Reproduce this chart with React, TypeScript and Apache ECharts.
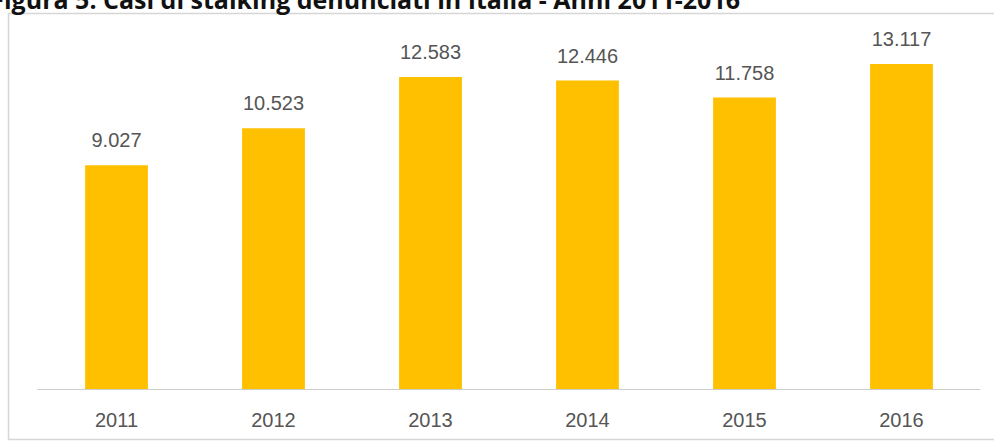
import React, { useEffect, useRef } from "react";
import * as echarts from "echarts";

const categories = ["2011", "2012", "2013", "2014", "2015", "2016"];
const casesValues = [9027, 10523, 12583, 12446, 11758, 13117];
const titleText = "Figura 5: Casi di stalking denunciati in Italia - Anni 2011-2016";

const formatIt = (v: number) => String(v).replace(/\B(?=(\d{3})+(?!\d))/g, ".");

export default function App() {
  const ref = useRef<HTMLDivElement>(null);
  useEffect(() => {
    if (!ref.current) return;
    const chart = echarts.init(ref.current, undefined, { renderer: "svg" });
    chart.setOption({
      animation: false,
      backgroundColor: "#ffffff",
      grid: { left: 38, right: 14, top: 42, bottom: 52, containLabel: false },
      xAxis: {
        type: "category",
        data: categories,
        axisLine: { show: true, lineStyle: { color: "#cccccc", width: 1 } },
        axisTick: { show: false },
        axisLabel: {
          color: "#555555",
          fontSize: 20,
          fontFamily: "Liberation Sans, Arial, sans-serif",
          margin: 21,
        },
      },
      yAxis: {
        type: "value",
        min: 0,
        max: 14000,
        show: false,
        splitLine: { show: false },
      },
      series: [
        {
          type: "bar",
          data: casesValues,
          barWidth: "40%",
          itemStyle: { color: "#FFC000" },
          label: {
            show: true,
            position: "top",
            distance: 15,
            color: "#555555",
            fontSize: 20,
            fontFamily: "Liberation Sans, Arial, sans-serif",
            formatter: (p: any) => formatIt(p.value),
          },
        },
      ],
      graphic: [
        {
          type: "rect",
          shape: { x: 8.5, y: 13.5, width: 1000, height: 426 },
          style: { fill: "none", stroke: "#d6d6d6", lineWidth: 1.5 },
          z: -1,
        },
        {
          type: "text",
          x: 740,
          y: 11,
          style: {
            text: titleText,
            fill: "#111111",
            font: "bold 25px 'Open Sans', sans-serif",
            textAlign: "right",
            textVerticalAlign: "bottom",
          },
        },
      ],
    });
    return () => chart.dispose();
  }, []);
  return (
    <div
      ref={ref}
      style={{ position: "absolute", left: 0, top: 0, width: 994, height: 441 }}
    />
  );
}
